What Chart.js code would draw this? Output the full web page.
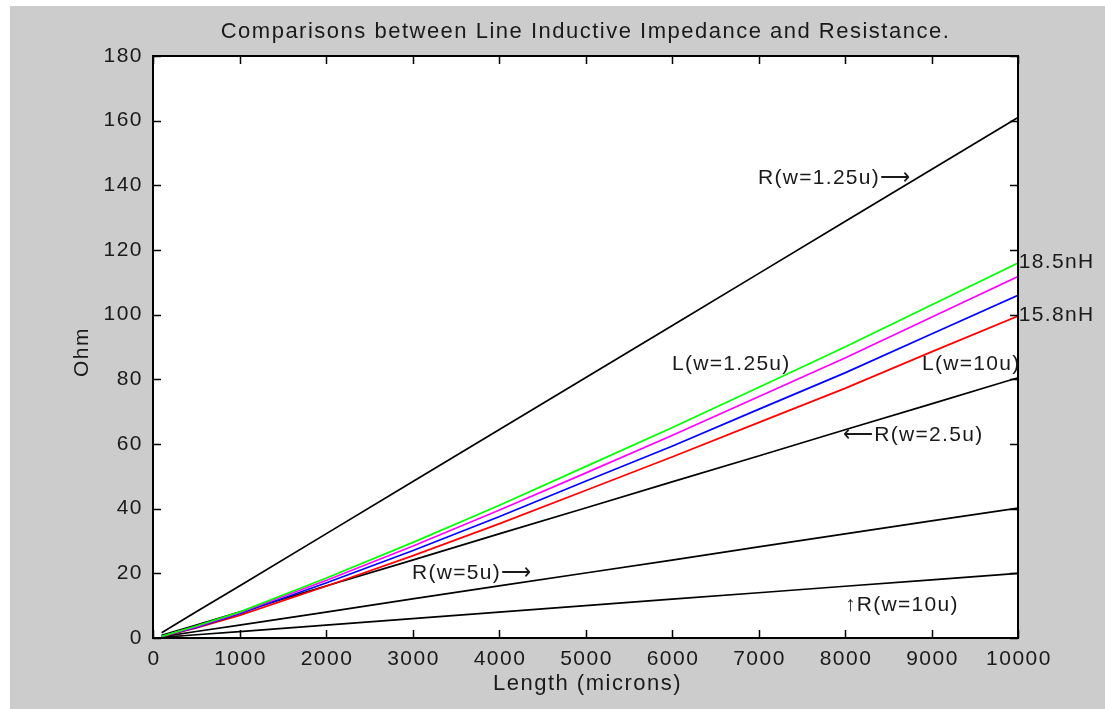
<!DOCTYPE html>
<html>
<head>
<meta charset="utf-8">
<script src="https://cdn.jsdelivr.net/npm/chart.js@4.4.1/dist/chart.umd.min.js"></script>
<style>
  html, body { margin: 0; padding: 0; background: #fff; }
  #wrap { position: absolute; left: 10px; top: 6px; width: 1095px; height: 703px; background: #cccccc; }
  #plot { display: block; }
</style>
</head>
<body>
<div id="wrap"><canvas id="plot" width="1095" height="703"></canvas></div>
<script>
// ─── DATA ─────────────────────────────────────────────────────────────────────
const lengths = [100, 500, 1000, 2000, 3000, 4000, 5000, 6000, 7000, 8000, 9000, 10000];

// inductive impedance, one curve per line width
const L_w125 = [0.5, 3.7, 8.0, 18.5, 29.5, 41.0, 53.0, 65.0, 77.5, 90.0, 103.0, 116.0];
const L_w25  = [0.5, 3.5, 7.8, 17.8, 28.4, 39.5, 51.0, 62.6, 74.6, 86.6, 99.2, 111.8];
const L_w5   = [0.5, 3.3, 7.5, 17.0, 27.0, 37.5, 48.5, 59.3, 70.7, 82.0, 94.0, 106.0];
const L_w10  = [0.4, 3.1, 7.0, 16.0, 25.4, 35.3, 45.6, 56.0, 66.6, 77.2, 88.5, 99.6];

// line resistance
const R_w125 = [1.6, 8.1, 16.1, 32.2, 48.3, 64.4, 80.5, 96.6, 112.7, 128.8, 144.9, 161.0];
const R_w25  = [0.8, 4.0, 8.0, 16.1, 24.1, 32.2, 40.2, 48.3, 56.3, 64.4, 72.4, 80.5];
const R_w5   = [0.4, 2.0, 4.0, 8.0, 12.1, 16.1, 20.1, 24.1, 28.2, 32.2, 36.2, 40.2];
const R_w10  = [0.2, 1.0, 2.0, 4.0, 6.0, 8.0, 10.0, 12.0, 14.0, 16.0, 18.0, 20.0];

const xTicks = [0, 1000, 2000, 3000, 4000, 5000, 6000, 7000, 8000, 9000, 10000];
const yTicks = [0, 20, 40, 60, 80, 100, 120, 140, 160, 180];

// text notes placed in data coordinates (left edge, vertical middle)
const noteText = ['R(w=1.25u)⟶', '18.5nH', '15.8nH', 'L(w=1.25u)', 'L(w=10u)', '⟵R(w=2.5u)', 'R(w=5u)⟶', '↑R(w=10u)'];
const noteX    = [6994, 10010, 10010, 6000, 8890, 7977, 2994, 8000];
const noteY    = [142.3, 116.3, 99.9, 84.7, 84.7, 62.8, 20.1, 10.2];

const TITLE  = 'Comparisons between Line Inductive Impedance and Resistance.';
const XLABEL = 'Length (microns)';
const YLABEL = 'Ohm';

// ─── HELPERS ──────────────────────────────────────────────────────────────────
const FONT = "'Liberation Sans', Arial, sans-serif";
const INK  = '#1a1a1a';

function pts(ys) {
  return lengths.map((x, i) => ({ x, y: ys[i] }));
}

function series(label, ys, color) {
  return {
    label, data: pts(ys),
    borderColor: color, backgroundColor: color,
    borderWidth: 1.7, pointRadius: 0, showLine: true, tension: 0,
  };
}

function text(ctx, s, x, y, align) {
  ctx.textAlign = align;
  ctx.fillText(s, x, y);
}

// white axes box, inward ticks, tick labels, notes, titles
const frame = {
  id: 'frame',
  beforeDatasetsDraw(chart) {
    const { ctx, chartArea: a } = chart;
    ctx.save();
    ctx.fillStyle = '#ffffff';
    ctx.fillRect(a.left, a.top, a.right - a.left, a.bottom - a.top);
    ctx.restore();
  },
  afterDraw(chart) {
    const { ctx, chartArea: a, scales: { x, y } } = chart;
    ctx.save();
    ctx.strokeStyle = '#000';
    ctx.lineWidth = 2;
    ctx.strokeRect(a.left, a.top, a.right - a.left, a.bottom - a.top);

    ctx.lineWidth = 1.5;
    ctx.beginPath();
    for (const v of xTicks) {
      const px = Math.round(x.getPixelForValue(v)) + 0.5;
      ctx.moveTo(px, a.bottom); ctx.lineTo(px, a.bottom - 8);
      ctx.moveTo(px, a.top);    ctx.lineTo(px, a.top + 8);
    }
    for (const v of yTicks) {
      const py = Math.round(y.getPixelForValue(v)) + 0.5;
      ctx.moveTo(a.left, py);  ctx.lineTo(a.left + 8, py);
      ctx.moveTo(a.right, py); ctx.lineTo(a.right - 8, py);
    }
    ctx.stroke();

    ctx.fillStyle = INK;
    ctx.textBaseline = 'middle';
    ctx.letterSpacing = '1.5px';

    // tick labels
    ctx.font = `21px ${FONT}`;
    for (const v of xTicks) text(ctx, String(v), x.getPixelForValue(v) + 1, a.bottom + 21, 'center');
    for (const v of yTicks) text(ctx, String(v), a.left - 10, y.getPixelForValue(v), 'right');

    // notes on the curves
    ctx.letterSpacing = '1.3px';
    noteText.forEach((t, i) => {
      text(ctx, t, x.getPixelForValue(noteX[i]), y.getPixelForValue(noteY[i]), 'left');
    });

    // titles
    ctx.font = `22px ${FONT}`;
    ctx.letterSpacing = '1.5px';
    text(ctx, TITLE, (a.left + a.right) / 2, 26, 'center');
    text(ctx, XLABEL, (a.left + a.right) / 2 + 2, 678, 'center');
    ctx.translate(72, (a.top + a.bottom) / 2 + 5);
    ctx.rotate(-Math.PI / 2);
    ctx.font = `21px ${FONT}`;
    text(ctx, YLABEL, 0, 0, 'center');
    ctx.restore();
  },
};

// ─── CHART ────────────────────────────────────────────────────────────────────
new Chart(document.getElementById('plot'), {
  type: 'scatter',
  data: {
    datasets: [
      series('R(w=1.25u)', R_w125, '#000000'),
      series('L(w=1.25u)', L_w125, '#00ff00'),
      series('L(w=2.5u)',  L_w25,  '#ff00ff'),
      series('L(w=5u)',    L_w5,   '#0000ff'),
      series('L(w=10u)',   L_w10,  '#ff0000'),
      series('R(w=2.5u)',  R_w25,  '#000000'),
      series('R(w=5u)',    R_w5,   '#000000'),
      series('R(w=10u)',   R_w10,  '#000000'),
    ],
  },
  options: {
    responsive: false, animation: false,
    layout: { padding: { top: 50, right: 87, left: 0, bottom: 0 } },
    plugins: {
      legend: { display: false },
      tooltip: { enabled: false },
    },
    scales: {
      x: {
        type: 'linear', min: 0, max: 10000,
        afterFit: s => { s.height = 71; },
        afterBuildTicks: s => { s.ticks = xTicks.map(value => ({ value })); },
        grid: { display: false, drawTicks: false },
        border: { display: false },
        ticks: { display: false },
      },
      y: {
        type: 'linear', min: 0, max: 180,
        afterFit: s => { s.width = 143; },
        afterBuildTicks: s => { s.ticks = yTicks.map(value => ({ value })); },
        grid: { display: false, drawTicks: false },
        border: { display: false },
        ticks: { display: false },
      },
    },
  },
  plugins: [frame],
});
</script>
</body>
</html>
